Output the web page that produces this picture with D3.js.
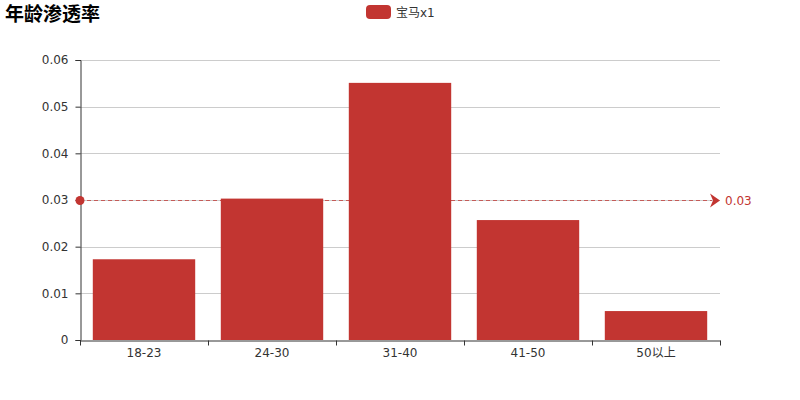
<!DOCTYPE html>
<html><head><meta charset="utf-8">
<script src="https://cdn.jsdelivr.net/npm/d3@7"></script>
<style>body{margin:0;background:#fff}svg{display:block}text{font-family:"DejaVu Sans","Noto Sans CJK SC",sans-serif}</style>
</head><body><svg id="c" width="800" height="400"></svg>
<script>
const title = "年龄渗透率";
const seriesName = "宝马x1";
const categories = ["18-23","24-30","31-40","41-50","50以上"];
const values = [0.0173,0.0303,0.0551,0.0257,0.0062];
const yTicks = [0,0.01,0.02,0.03,0.04,0.05,0.06];
const markValue = 0.03;
const markLabel = "0.03";
const color = "#c23531";

const svg = d3.select("#c");
const L=80,R=720,T=60,B=340;
const x = d3.scaleBand().domain(categories).range([L,R]).paddingInner(0.2).paddingOuter(0.1);
const y = d3.scaleLinear().domain([0,0.06]).range([B,T]);

svg.append("text").attr("x",5).attr("y",21).attr("font-size",19).attr("font-weight","bold").attr("fill","#000").text(title);
svg.append("rect").attr("x",366).attr("y",5).attr("width",25).attr("height",14).attr("rx",4).attr("fill",color);
svg.append("text").attr("x",396).attr("y",16.5).attr("font-size",12).attr("fill","#333").text(seriesName);

// grid
svg.append("g").selectAll("line").data(yTicks.slice(1)).join("line")
  .attr("x1",L).attr("x2",R).attr("y1",d=>Math.round(y(d))+0.5).attr("y2",d=>Math.round(y(d))+0.5)
  .attr("stroke","#ccc");

// bars
svg.append("g").selectAll("rect").data(values).join("rect")
  .attr("x",(d,i)=>x(categories[i])).attr("width",x.bandwidth())
  .attr("y",d=>y(d)).attr("height",d=>B-y(d)).attr("fill",color);

// y axis
const ya = svg.append("g").attr("transform",`translate(${L+0.5},0)`)
  .call(d3.axisLeft(y).tickValues(yTicks).tickFormat(d=>d===0?"0":d3.format(".2f")(d)).tickSizeOuter(0).tickSize(5));
ya.select(".domain").attr("stroke","#333");
ya.selectAll(".tick line").attr("stroke","#333");
ya.selectAll("text").attr("fill","#333").attr("font-size",12).attr("x",-12);

// x axis
const xa = svg.append("g").attr("transform",`translate(0,${B+0.5})`)
  .call(d3.axisBottom(x).tickSize(0).tickSizeOuter(0));
xa.select(".domain").attr("stroke","#333");
xa.selectAll("text").attr("fill","#333").attr("font-size",12).attr("dy","0.71em").attr("y",8);
const step = x.step();
const bounds = d3.range(categories.length+1).map(i=>L+i*step);
xa.selectAll("line.bt").data(bounds).join("line").attr("class","bt")
  .attr("x1",d=>Math.round(d)+0.5).attr("x2",d=>Math.round(d)+0.5).attr("y1",0).attr("y2",5).attr("stroke","#333");

// mark line
const my = Math.round(y(markValue))+0.5;
svg.append("line").attr("x1",L).attr("x2",R-8).attr("y1",my).attr("y2",my)
  .attr("stroke",color).attr("stroke-opacity",0.75).attr("stroke-dasharray","4,3").attr("stroke-width",1);
svg.append("circle").attr("cx",L).attr("cy",my).attr("r",4.5).attr("fill",color);
svg.append("path").attr("d",`M${R-10},${my-7} L${R},${my} L${R-10},${my+7} L${R-7},${my} Z`).attr("fill",color);
svg.append("text").attr("x",R+5).attr("y",my+4.5).attr("font-size",12).attr("fill",color).text(markLabel);
</script></body></html>
